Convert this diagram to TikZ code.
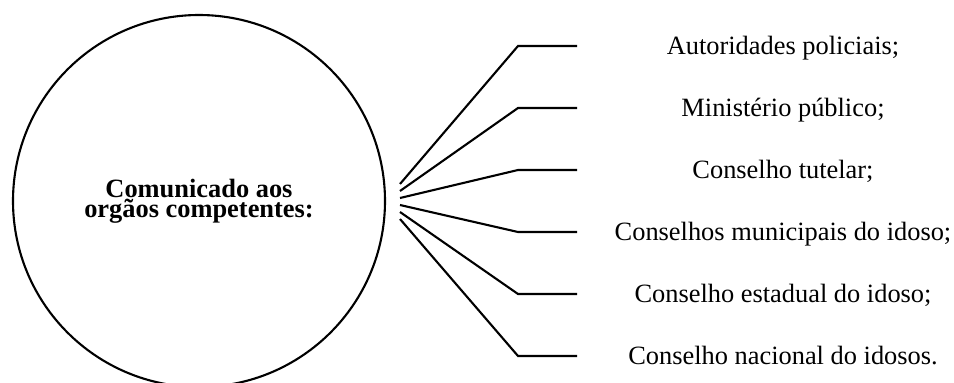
\documentclass[tikz,border=0pt]{standalone}
\usepackage{fontspec}
\setmainfont{Liberation Serif}
\tikzset{
  conn/.style={draw=black, line width=2.1pt, line join=miter},
  lbl/.style={font=\fontsize{26.4pt}{30pt}\selectfont, anchor=base, inner sep=0pt},
  hub/.style={circle, draw=black, line width=2.1pt, minimum size=372pt, inner sep=0pt,
    align=center, font=\fontsize{26.4pt}{18.6pt}\selectfont\bfseries}
}
\begin{document}
\begin{tikzpicture}[x=1pt, y=-1pt]
\clip (0,0) rectangle (954,383);
\node[hub] (c) at (199,201) {Comunicado aos\\orgãos competentes:};
\foreach \i/\t in {0/{Autoridades policiais;},1/{Ministério público;},2/{Conselho tutelar;},3/{Conselhos municipais do idoso;},4/{Conselho estadual do idoso;},5/{Conselho nacional do idosos.}}{
  \coordinate (s\i) at (400,{184+7*\i});
  \coordinate (e\i) at (518,{46+62*\i});
  \coordinate (h\i) at (577,{46+62*\i});
  \node[lbl] (l\i) at (783,{54.5+62*\i}) {\t};
  \draw[conn] (s\i) -- (e\i) -- (h\i);
}
\end{tikzpicture}
\end{document}
